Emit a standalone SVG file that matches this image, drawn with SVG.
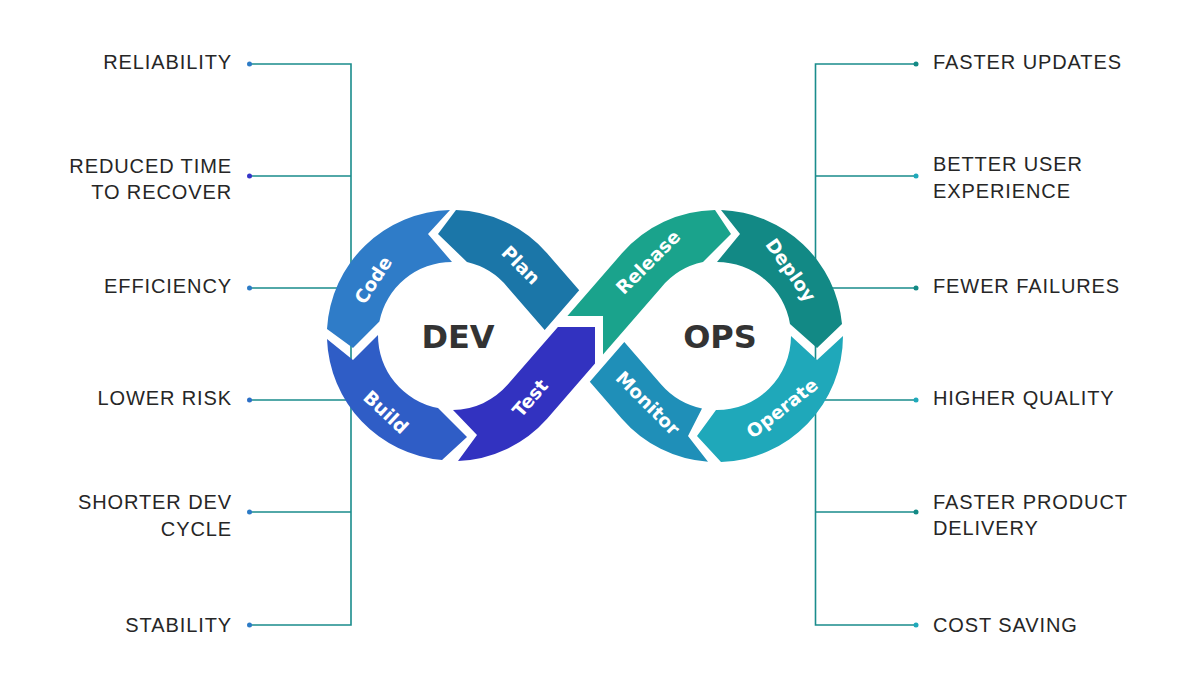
<svg xmlns="http://www.w3.org/2000/svg" width="1200" height="675" viewBox="0 0 1200 675">
<style>
.lbl{font-family:"Liberation Sans",Arial,sans-serif;font-size:20px;letter-spacing:0.9px;fill:#262626}
.l{text-anchor:end}
.seg{font-family:"DejaVu Sans","Liberation Sans",sans-serif;font-weight:bold;font-size:18.5px;fill:#fff;text-anchor:middle}
.big{font-family:"DejaVu Sans","Liberation Sans",sans-serif;font-weight:bold;font-size:32px;fill:#333;text-anchor:middle}
.cn{fill:none;stroke:#1a8c8c;stroke-width:1.6}
</style>
<rect width="1200" height="675" fill="#fff"/>
<g id="connectors">
<path class="cn" d="M250,64H351V625H250M250,176H351M250,288H351M250,400H351M250,512H351"/>
<path class="cn" d="M916,64H815.5V625H916M916,176H815.5M916,288H815.5M916,400H815.5M916,512H815.5"/>
<circle cx="249.5" cy="64" r="2.5" fill="#2c7bc6"/>
<circle cx="249.5" cy="176" r="2.5" fill="#3535c8"/>
<circle cx="249.5" cy="288" r="2.5" fill="#2c7bc6"/>
<circle cx="249.5" cy="400" r="2.5" fill="#2c6fc6"/>
<circle cx="249.5" cy="512" r="2.5" fill="#2c7bc6"/>
<circle cx="249.5" cy="625" r="2.5" fill="#2c7bc6"/>
<circle cx="916" cy="64" r="2.5" fill="#138a85"/>
<circle cx="916" cy="176" r="2.5" fill="#1fa9ba"/>
<circle cx="916" cy="288" r="2.5" fill="#138a85"/>
<circle cx="916" cy="400" r="2.5" fill="#1fa9ba"/>
<circle cx="916" cy="512" r="2.5" fill="#138a85"/>
<circle cx="916" cy="625" r="2.5" fill="#1fa9ba"/>
</g>
<g id="plan"><path fill="#1b76a8" d="M456,210 A126 126 0 0 1 547.1,253.3 L579.2,290.2 L544.7,329.9 L507.8,287.4 A74 74 0 0 0 467,262 L438,234 Z"/><text class="seg" transform="translate(521,265) rotate(45)" dy="0.36em">Plan</text></g>
<g id="code"><path fill="#2f7cc8" d="M450,210 A126 126 0 0 0 327,329 L353,348 L379.4,321.6 A74 74 0 0 1 452,262 L428,234 Z"/><text class="seg" transform="translate(373,280) rotate(-57)" dy="0.36em">Code</text></g>
<g id="build"><path fill="#2f5dc6" d="M327,339 A126 126 0 0 0 442,460 L467,437 L438,408 A74 74 0 0 1 378,335 L353,360 Z"/><text class="seg" transform="translate(386,412) rotate(43)" dy="0.36em">Build</text></g>
<g id="test"><path fill="#3232c0" d="M458,461 A126 126 0 0 0 547.1,418.7 L595,363.6 L595,327 L557.9,327 L507.8,384.6 A74 74 0 0 1 453,410 L477,435 Z"/><text class="seg" transform="translate(530,398) rotate(-49)" dy="0.36em">Test</text></g>
<g id="release"><path fill="#1aa38c" d="M567.4,316 L621.9,253.3 A126 126 0 0 1 715,210 L731,234 L703,262 A74 74 0 0 0 661.2,287.4 L603,354.4 L603,316 Z"/><text class="seg" transform="translate(648,262) rotate(-45)" dy="0.36em">Release</text></g>
<g id="deploy"><path fill="#128985" d="M721,210 A126 126 0 0 1 842,324 L817,348 L790,324 A74 74 0 0 0 717,262 L740,234 Z"/><text class="seg" transform="translate(791,270) rotate(55)" dy="0.36em">Deploy</text></g>
<g id="operate"><path fill="#1fa8ba" d="M843,336 A126 126 0 0 1 721,462 L697,436 L716,410 A74 74 0 0 0 791,336 L817,360 Z"/><text class="seg" transform="translate(782,408) rotate(-38)" dy="0.36em">Operate</text></g>
<g id="monitor"><path fill="#1f8fb8" d="M708,461.7 A126 126 0 0 1 621.9,418.7 L589.8,381.8 L624.3,342.1 L661.2,384.6 A74 74 0 0 0 702,408.5 L688,436 Z"/><text class="seg" transform="translate(648,403) rotate(45)" dy="0.36em">Monitor</text></g>
<g id="dev"><text class="big" x="458" y="348">DEV</text></g>
<g id="ops"><text class="big" x="720" y="348">OPS</text></g>
<g id="l-reliability"><text class="lbl l" x="232" y="69">RELIABILITY</text></g>
<g id="l-recover"><text class="lbl l" x="232" y="172.5">REDUCED TIME</text><text class="lbl l" x="232" y="199">TO RECOVER</text></g>
<g id="l-efficiency"><text class="lbl l" x="232" y="293">EFFICIENCY</text></g>
<g id="l-risk"><text class="lbl l" x="232" y="405">LOWER RISK</text></g>
<g id="l-cycle"><text class="lbl l" x="232" y="509">SHORTER DEV</text><text class="lbl l" x="232" y="535.5">CYCLE</text></g>
<g id="l-stability"><text class="lbl l" x="232" y="632">STABILITY</text></g>
<g id="r-updates"><text class="lbl" x="933" y="68.5">FASTER UPDATES</text></g>
<g id="r-ux"><text class="lbl" x="933" y="171">BETTER USER</text><text class="lbl" x="933" y="197.5">EXPERIENCE</text></g>
<g id="r-failures"><text class="lbl" x="933" y="293">FEWER FAILURES</text></g>
<g id="r-quality"><text class="lbl" x="933" y="405">HIGHER QUALITY</text></g>
<g id="r-delivery"><text class="lbl" x="933" y="508.5">FASTER PRODUCT</text><text class="lbl" x="933" y="535">DELIVERY</text></g>
<g id="r-saving"><text class="lbl" x="933" y="631.5">COST SAVING</text></g>
</svg>
